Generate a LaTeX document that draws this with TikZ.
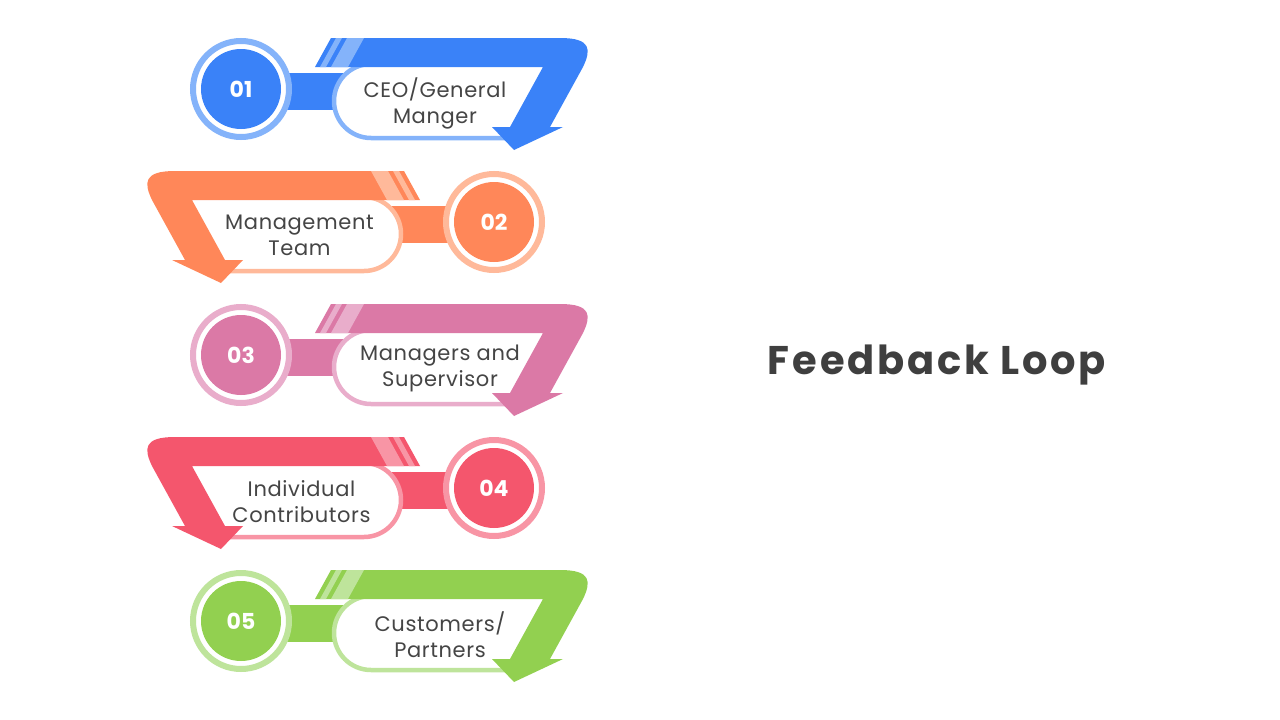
\documentclass[tikz,border=0pt]{standalone}
\usepackage{fontspec}
\setmainfont{Poppins}
\definecolor{bluD}{HTML}{3A82F8}
\definecolor{bluL}{HTML}{84B3FA}
\definecolor{oraD}{HTML}{FF8759}
\definecolor{oraL}{HTML}{FFB99A}
\definecolor{pinD}{HTML}{DB79A6}
\definecolor{pinL}{HTML}{E9ADCB}
\definecolor{redD}{HTML}{F4566D}
\definecolor{redL}{HTML}{F895A5}
\definecolor{grnD}{HTML}{92D050}
\definecolor{grnL}{HTML}{BEE49B}
\definecolor{txt}{HTML}{454545}
\definecolor{ttl}{HTML}{3F3F3F}
\newfontfamily\labfont[LetterSpace=3]{Poppins}
\newfontfamily\ttlfont[LetterSpace=7]{Poppins}
\tikzset{
  ringnode/.style={circle, minimum size=96pt, inner sep=0pt, fill=white, line width=6pt},
  numnode/.style={circle, minimum size=80pt, inner sep=0pt, text=white, font=\fontsize{22}{26}\selectfont\bfseries},
  labelnode/.style={align=center, text=txt, font=\labfont\fontsize{21}{26}\selectfont, inner sep=0pt},
  pillpath/.style={fill=white, line width=4.5pt},
}
% #1 dark, #2 light, #3 name suffix, #4 number
\newcommand{\fbrow}[4]{%
  \fill[#1] (285,73) rectangle (372,110);
  \node[ringnode, draw=#2] (ring#3) at (241,89) {};
  \node[numnode, fill=#1] (num#3) at (241,89) {#4};
  \path[pillpath, draw=#2] (560,64) -- (371,64) arc[start angle=270, end angle=90, radius=37] -- (519,138) -- cycle;
  \fill[#1] (331,38) -- (560,38) .. controls (592,38) and (591,50) .. (583,67) -- (550,127) -- (563,127) -- (514,150) -- (492,127) -- (510,127) -- (543,67) -- (315,67) -- cycle;
  \fill[#2] (336,38) -- (342,38) -- (326,67) -- (320,67) -- cycle;
  \fill[#2] (347,38) -- (364,38) -- (348,67) -- (331,67) -- cycle;
}
\begin{document}
\begin{tikzpicture}[x=1pt, y=-1pt]
\useasboundingbox (0,0) rectangle (1280,720);
\fill[white] (0,0) rectangle (1280,720);
\begin{scope}
  \fbrow{bluD}{bluL}{1}{01}
\end{scope}
\begin{scope}[shift={(735,133)}, xscale=-1]
  \fbrow{oraD}{oraL}{2}{02}
\end{scope}
\begin{scope}[shift={(0,266)}]
  \fbrow{pinD}{pinL}{3}{03}
\end{scope}
\begin{scope}[shift={(735,399)}, xscale=-1]
  \fbrow{redD}{redL}{4}{04}
\end{scope}
\begin{scope}[shift={(0,532)}]
  \fbrow{grnD}{grnL}{5}{05}
\end{scope}
\node[labelnode] (lab1) at (435,103) {CEO/General\\Manger};
\node[labelnode] (lab2) at (299.5,235.5) {Management\\Team};
\node[labelnode] (lab3) at (440,368.5) {Managers and\\Supervisor};
\node[labelnode] (lab4) at (301.5,501.5) {Individual\\Contributors};
\node[labelnode] (lab5) at (440,634.5) {Customers/\\Partners};
\node[anchor=base, text=ttl, font=\ttlfont\fontsize{40}{48}\selectfont\bfseries] (title) at (937,374) {Feedback Loop};
\end{tikzpicture}
\end{document}
